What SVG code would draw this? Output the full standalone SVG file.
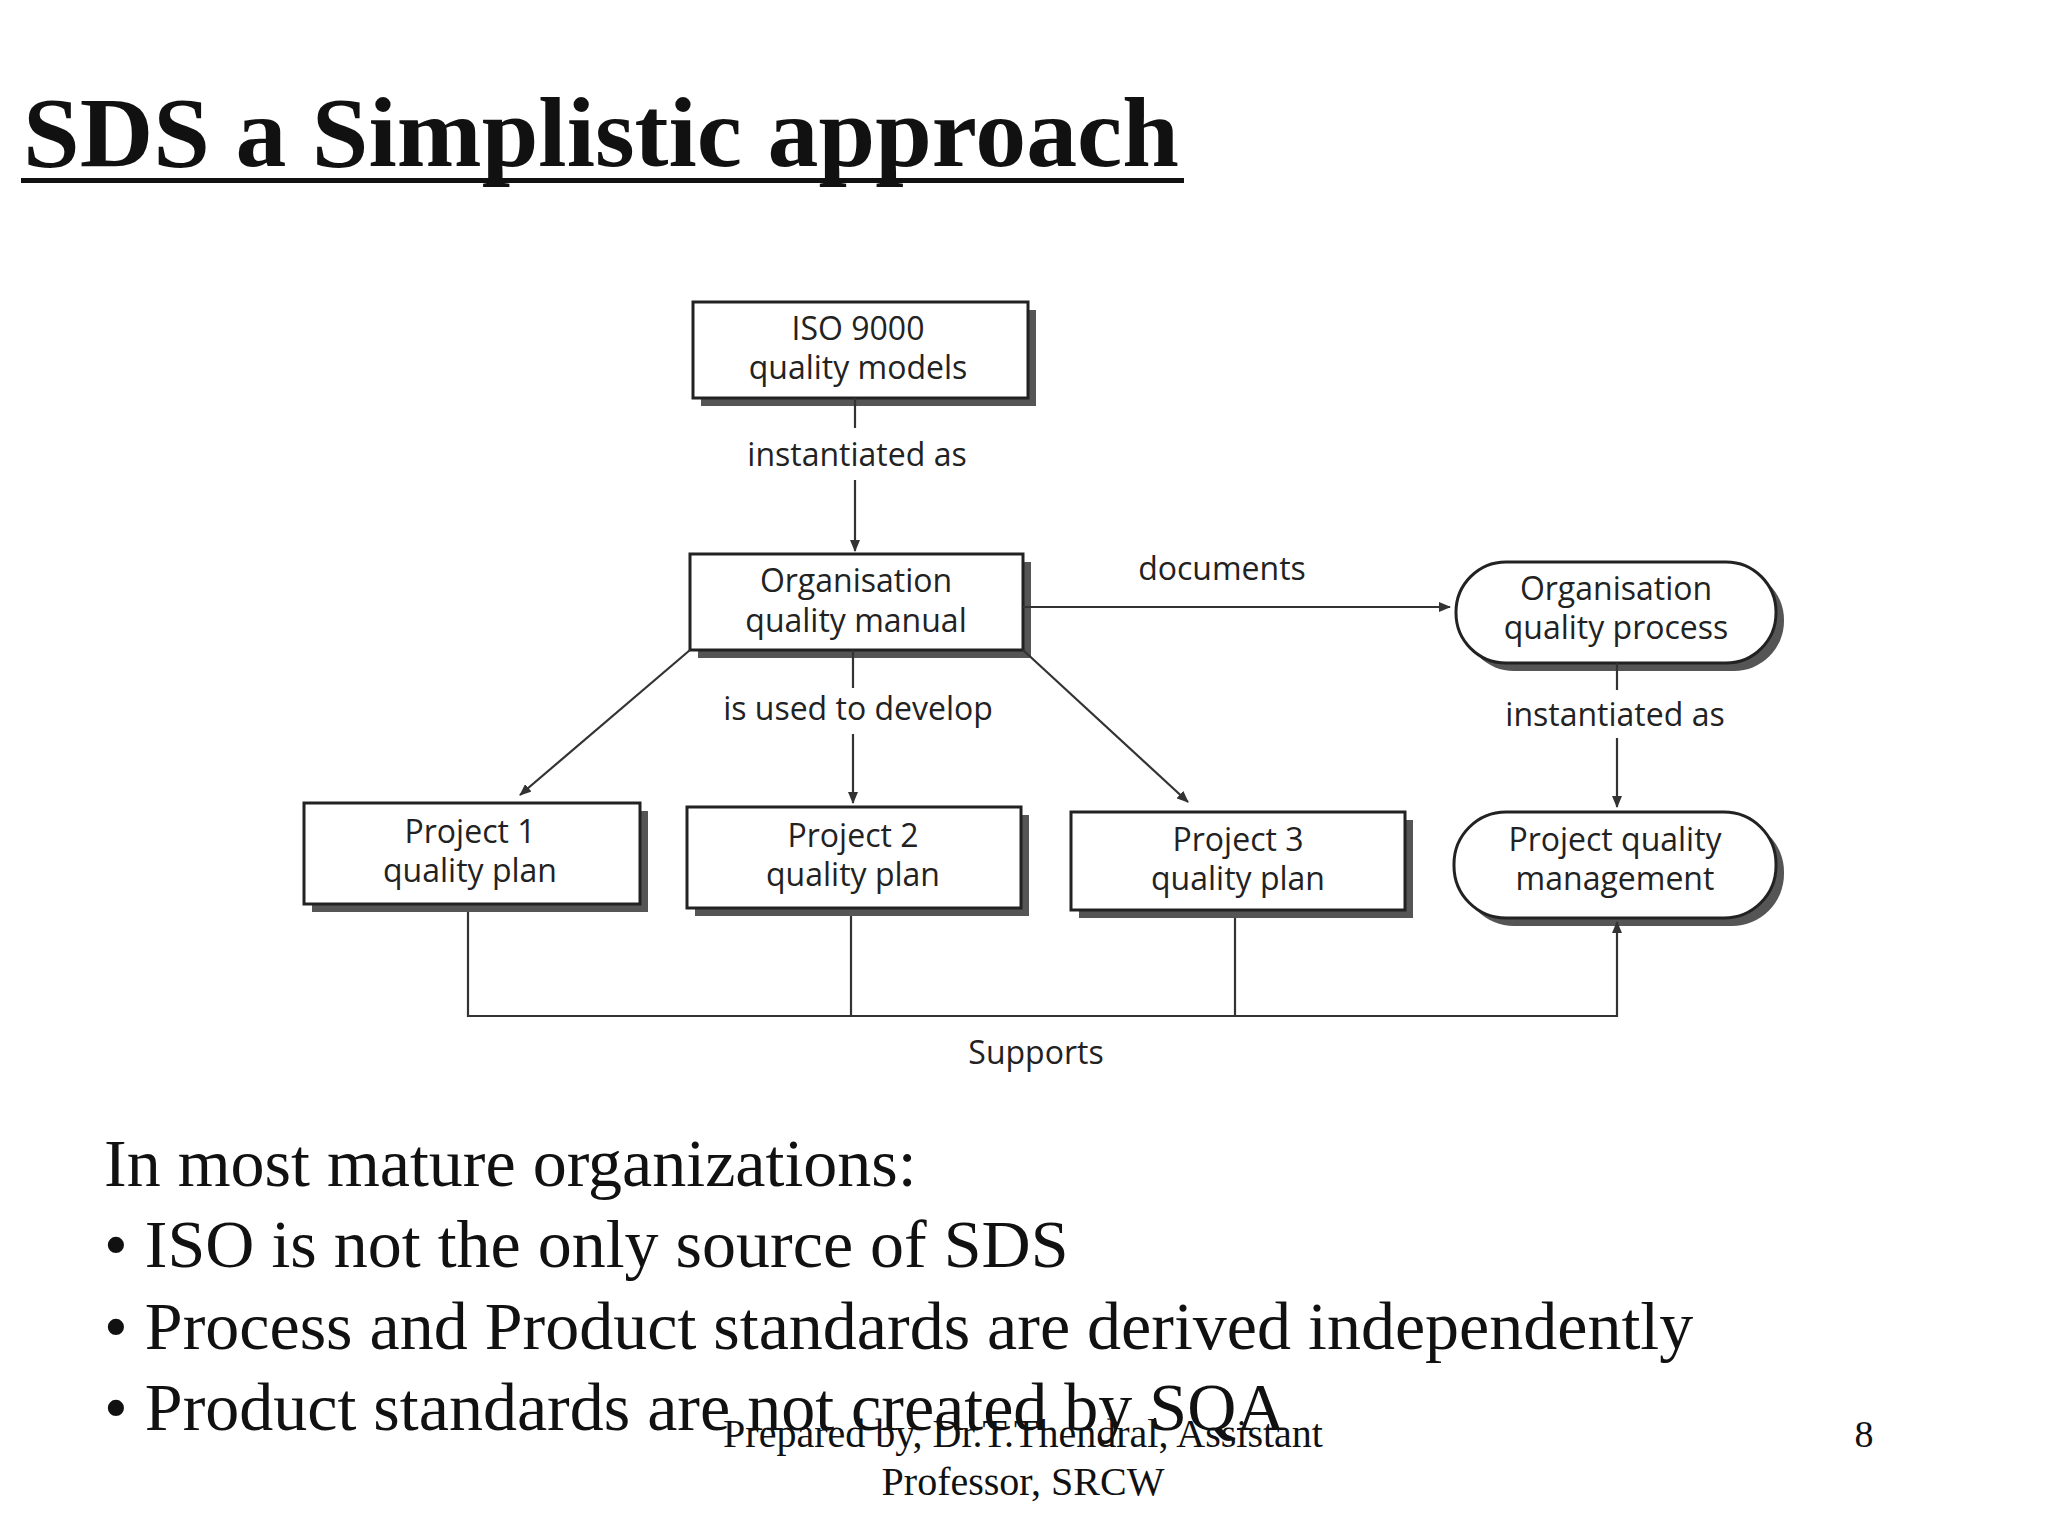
<svg xmlns="http://www.w3.org/2000/svg" width="2048" height="1536" viewBox="0 0 2048 1536">
<style>
.box{fill:#fff;stroke:#222;stroke-width:3}
.sh{fill:#555}
.t{font-family:"Open Sans","DejaVu Sans",sans-serif;font-size:32px;fill:#222;text-anchor:middle;font-weight:500}
.c{stroke:#333;stroke-width:2.2;fill:none}
.b{font-family:"Liberation Serif","Times New Roman",serif;fill:#111}
</style>
<defs>
<marker id="a" viewBox="0 0 12 10" refX="11" refY="5" markerWidth="12" markerHeight="10" markerUnits="userSpaceOnUse" orient="auto"><path d="M0,0 L12,5 L0,10 z" fill="#333"/></marker>
</defs>
<rect width="2048" height="1536" fill="#fff"/>
<text class="b" x="23" y="166" font-size="100" font-weight="bold" textLength="1156" lengthAdjust="spacingAndGlyphs">SDS a Simplistic approach</text>
<rect x="21" y="178" width="1163" height="5" fill="#111"/>

<g id="iso"><rect class="sh" x="701" y="310" width="335" height="96"/><rect class="box" x="693" y="302" width="335" height="96"/><text class="t" x="858" y="340">ISO 9000</text><text class="t" x="858" y="379">quality models</text></g>
<g id="manual"><rect class="sh" x="698" y="562" width="333" height="96"/><rect class="box" x="690" y="554" width="333" height="96"/><text class="t" x="856" y="592">Organisation</text><text class="t" x="856" y="632">quality manual</text></g>
<g id="process"><rect class="sh" x="1464" y="570" width="320" height="101" rx="50"/><rect class="box" x="1456" y="562" width="320" height="101" rx="50"/><text class="t" x="1616" y="600">Organisation</text><text class="t" x="1616" y="639">quality process</text></g>
<g id="p1"><rect class="sh" x="312" y="811" width="336" height="101"/><rect class="box" x="304" y="803" width="336" height="101"/><text class="t" x="470" y="843">Project 1</text><text class="t" x="470" y="882">quality plan</text></g>
<g id="p2"><rect class="sh" x="695" y="815" width="334" height="101"/><rect class="box" x="687" y="807" width="334" height="101"/><text class="t" x="853" y="847">Project 2</text><text class="t" x="853" y="886">quality plan</text></g>
<g id="p3"><rect class="sh" x="1079" y="820" width="334" height="98"/><rect class="box" x="1071" y="812" width="334" height="98"/><text class="t" x="1238" y="851">Project 3</text><text class="t" x="1238" y="890">quality plan</text></g>
<g id="pqm"><rect class="sh" x="1462" y="820" width="322" height="106" rx="52"/><rect class="box" x="1454" y="812" width="322" height="106" rx="52"/><text class="t" x="1615" y="851">Project quality</text><text class="t" x="1615" y="890">management</text></g>

<g id="connectors">
<path class="c" d="M855,398 V428 M855,480 V551" marker-end="url(#a)"/>
<text class="t" x="857" y="466">instantiated as</text>
<path class="c" d="M1023,607 H1450" marker-end="url(#a)"/>
<text class="t" x="1222" y="580">documents</text>
<path class="c" d="M690,650 L520,795" marker-end="url(#a)"/>
<path class="c" d="M853,650 V688 M853,734 V803" marker-end="url(#a)"/>
<text class="t" x="858" y="720">is used to develop</text>
<path class="c" d="M1023,650 L1188,802" marker-end="url(#a)"/>
<path class="c" d="M1617,663 V690 M1617,738 V807" marker-end="url(#a)"/>
<text class="t" x="1615" y="726">instantiated as</text>
<path class="c" d="M468,912 V1016 H1617 V922" marker-end="url(#a)"/>
<path class="c" d="M851,916 V1016 M1235,918 V1016"/>
<text class="t" x="1036" y="1064">Supports</text>
</g>

<g font-size="68">
<text class="b" x="104" y="1186">In most mature organizations:</text>
<text class="b" x="104" y="1267">• ISO is not the only source of SDS</text>
<text class="b" x="104" y="1349">• Process and Product standards are derived independently</text>
<text class="b" x="104" y="1430">• Product standards are not created by SQA</text>
</g>
<text class="b" x="1023" y="1447" font-size="40" text-anchor="middle">Prepared by, Dr.T.Thendral, Assistant</text>
<text class="b" x="1023" y="1495" font-size="40" text-anchor="middle">Professor, SRCW</text>
<text class="b" x="1864" y="1447" font-size="38" text-anchor="middle">8</text>
</svg>
